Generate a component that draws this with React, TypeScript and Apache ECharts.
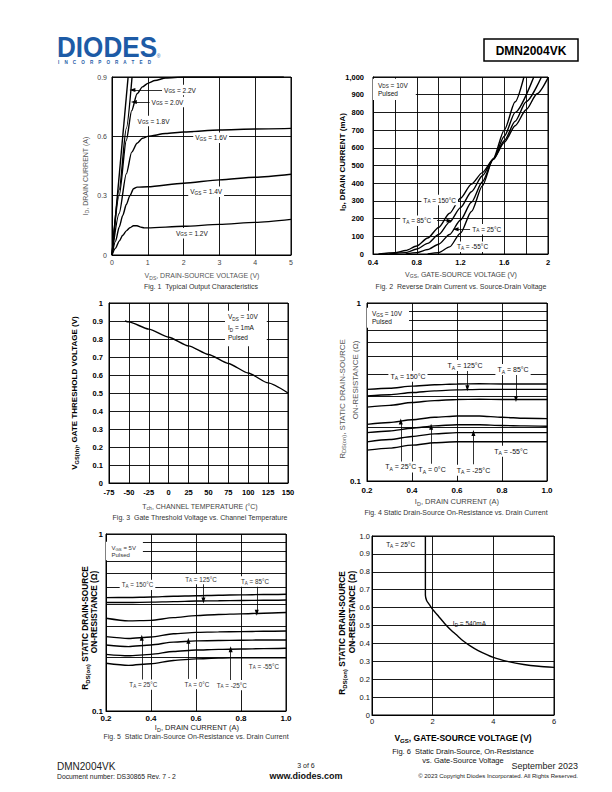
import React, { useEffect, useRef } from "react";
import * as echarts from "echarts";

const F = '"Liberation Sans", Arial, Helvetica, sans-serif';

// ---------- Fig. 1  Typical Output Characteristics  [VDS (V), ID (A)]
const f1Vgs22 = [[0, 0], [0.45, 0.9]];
const f1Vgs20 = [[0, 0], [0.2, 0.33], [0.4, 0.64], [0.56, 0.9]];
const f1Vgs18 = [[0, 0], [0.2, 0.3], [0.4, 0.58], [0.55, 0.73], [0.7, 0.815], [0.85, 0.85], [1, 0.868], [1.2, 0.882], [1.5, 0.895], [2, 0.9], [4.8, 0.9]];
const f1Vgs16 = [[0, 0], [0.2, 0.21], [0.4, 0.41], [0.55, 0.52], [0.7, 0.565], [0.85, 0.59], [1, 0.6], [1.5, 0.614], [2, 0.622], [3, 0.632], [4, 0.637], [5, 0.64]];
const f1Vgs14 = [[0, 0], [0.1, 0.07], [0.2, 0.14], [0.3, 0.2], [0.4, 0.255], [0.5, 0.3], [0.6, 0.335], [0.7, 0.343], [1, 0.345], [2, 0.363], [3, 0.38], [4, 0.393], [5, 0.408]];
const f1Vgs12 = [[0, 0], [0.1, 0.035], [0.2, 0.07], [0.3, 0.1], [0.4, 0.122], [0.5, 0.138], [0.6, 0.148], [0.7, 0.148], [0.8, 0.141], [0.9, 0.137], [1, 0.137], [2, 0.145], [3, 0.155], [4, 0.165], [5, 0.18]];
const f1Names = ["V{s|GS} = 2.2V", "V{s|GS} = 2.0V", "V{s|GS} = 1.8V", "V{s|GS} = 1.6V", "V{s|GS} = 1.4V", "V{s|GS} = 1.2V"];

// ---------- Fig. 2  Reverse drain current  [VGS (V), ID (mA)]
const f2T150 = [[0.45, 0], [0.6, 7], [0.7, 20], [0.8, 45], [0.9, 90], [1.0, 150], [1.1, 230], [1.2, 315], [1.3, 395], [1.4, 460], [1.5, 535], [1.6, 630], [1.7, 725], [1.8, 815], [1.9, 905], [2.0, 995]];
const f2T85 = [[0.55, 0], [0.7, 8], [0.8, 28], [0.9, 60], [1.0, 110], [1.1, 180], [1.2, 262], [1.3, 352], [1.4, 442], [1.5, 535], [1.6, 640], [1.7, 750], [1.8, 860], [1.94, 1000]];
const f2T25 = [[0.7, 0], [0.8, 8], [0.9, 25], [1.0, 55], [1.1, 110], [1.2, 192], [1.3, 292], [1.4, 408], [1.5, 535], [1.6, 665], [1.7, 800], [1.87, 1000]];
const f2Tm55 = [[0.9, 0], [1.0, 8], [1.1, 40], [1.2, 118], [1.3, 240], [1.4, 385], [1.5, 540], [1.6, 700], [1.7, 860], [1.78, 1000]];

// ---------- Fig. 3  Gate threshold voltage  [Tch (°C), VGS(th) (V)]
const f3Tch = [-55, -50, -25, 0, 25, 50, 75, 100, 125, 150];
const f3Vth = [0.9, 0.895, 0.855, 0.81, 0.762, 0.714, 0.664, 0.611, 0.556, 0.5];

// ---------- Fig. 4  RDS(on) vs ID, VGS = 10V
const f4Id = [0.2, 0.3, 0.4, 0.5, 0.6, 0.7, 0.8, 0.9, 1.0];
const f4T150 = [0.327, 0.332, 0.341, 0.347, 0.351, 0.352, 0.351, 0.351, 0.351];
const f4T125 = [0.3, 0.305, 0.314, 0.321, 0.325, 0.327, 0.327, 0.327, 0.327];
const f4T85 = [0.26, 0.266, 0.276, 0.283, 0.287, 0.288, 0.287, 0.287, 0.287];
const f4T25 = [0.208, 0.213, 0.221, 0.228, 0.232, 0.232, 0.228, 0.225, 0.224];
const f4T0 = [0.187, 0.191, 0.198, 0.204, 0.207, 0.207, 0.205, 0.204, 0.203];
const f4Tm25 = [0.166, 0.171, 0.178, 0.184, 0.187, 0.187, 0.187, 0.187, 0.187];
const f4Tm55 = [0.149, 0.153, 0.159, 0.164, 0.166, 0.166, 0.166, 0.166, 0.166];

// ---------- Fig. 5  RDS(on) vs ID, VGS = 5V
const f5Id = [0.2, 0.3, 0.4, 0.5, 0.6, 0.7, 0.8, 0.9, 1.0];
const f5T150 = [0.437, 0.438, 0.441, 0.445, 0.448, 0.451, 0.453, 0.455, 0.457];
const f5T125 = [0.41, 0.41, 0.412, 0.415, 0.418, 0.42, 0.421, 0.422, 0.424];
const f5T85 = [0.334, 0.323, 0.325, 0.337, 0.346, 0.351, 0.354, 0.357, 0.36];
const f5T25 = [0.263, 0.257, 0.262, 0.273, 0.278, 0.28, 0.281, 0.282, 0.283];
const f5T0 = [0.236, 0.231, 0.236, 0.245, 0.249, 0.25, 0.251, 0.252, 0.252];
const f5Tm25 = [0.209, 0.205, 0.209, 0.217, 0.221, 0.223, 0.224, 0.225, 0.226];
const f5Tm55 = [0.186, 0.181, 0.185, 0.193, 0.197, 0.199, 0.2, 0.2, 0.2];

// ---------- Fig. 6  RDS(on) vs VGS, ID = 540mA
const f6Vgs = [1.76, 1.76, 1.8, 1.9, 2.0, 2.2, 2.4, 2.6, 2.8, 3.0, 3.25, 3.5, 4.0, 4.5, 5.0, 5.5, 6.0];
const f6Rds = [1.0, 0.67, 0.64, 0.615, 0.59, 0.55, 0.51, 0.475, 0.445, 0.415, 0.385, 0.36, 0.322, 0.298, 0.282, 0.272, 0.266];

// log-axis minor grid values
const logMinor = [0.2, 0.3, 0.4, 0.5, 0.6, 0.7, 0.8, 0.9];

const pairs = (xs: number[], ys: number[]) => xs.map((x, i) => [x, ys[i]]);

function richSub(fs: number, w: string, fill: string) {
  return {
    s: { fontSize: fs * 0.72, fontFamily: F, fontWeight: w, fill, color: fill, verticalAlign: "bottom" },
  };
}

function gtext(x: number, y: number, text: string, fs: number, o: any = {}) {
  const w = o.w || "normal";
  const fill = o.fill || "#000";
  const align = o.align || "center";
  return {
    type: "text",
    x,
    y,
    rotation: o.rot || 0,
    scaleX: o.sx || 1,
    silent: true,
    z: 10,
    style: {
      text,
      x: 0,
      y: 0,
      fill,
      fontSize: fs,
      fontFamily: F,
      fontWeight: w,
      align,
      textAlign: align,
      verticalAlign: "middle",
      textVerticalAlign: "middle",
      lineHeight: o.lh || Math.round(fs * 1.3),
      rich: richSub(fs, w, fill),
    },
  };
}

function mlabel(coord: number[], text: string, fs: number, o: any = {}) {
  const w = o.w || "normal";
  const fill = o.fill || "#111";
  return {
    coord,
    symbol: "circle",
    symbolSize: 1,
    itemStyle: { color: "rgba(0,0,0,0)" },
    label: {
      show: true,
      position: "inside",
      formatter: text,
      fontSize: fs,
      fontFamily: F,
      fontWeight: w,
      color: fill,
      backgroundColor: o.bg === false ? "transparent" : "#fff",
      padding: o.pad || [1, 2],
      align: o.align || "center",
      verticalAlign: o.va || "middle",
      lineHeight: o.lh || fs + 2,
      rich: richSub(fs, w, fill),
    },
  };
}

const arrow = (a: number[], b: number[], head = true) => [
  { coord: a, symbol: "none" },
  { coord: b, symbol: head ? "triangle" : "none", symbolSize: [4, 6] },
];

const mp = (items: any[]) => ({ silent: true, animation: false, data: items });
const ml = (items: any[], z = 4, width = 0.8) => ({
  silent: true,
  animation: false,
  symbol: ["none", "none"],
  label: { show: false },
  emphasis: { disabled: true },
  lineStyle: { color: "#000", width, type: "solid" },
  z,
  data: items,
});

function curve(data: any[], idx: number, extra: any = {}) {
  return {
    type: "line",
    xAxisIndex: idx,
    yAxisIndex: idx,
    data,
    symbol: "none",
    showSymbol: false,
    silent: true,
    smooth: 0.25,
    smoothMonotone: "x",
    lineStyle: { color: "#000", width: 1.4 },
    z: 3,
    animation: false,
    ...extra,
  };
}

function ax(o: any) {
  const { axisLabel, ...rest } = o;
  return {
    type: "value",
    axisLine: { show: true, onZero: false, lineStyle: { color: "#000", width: 1 } },
    axisTick: { show: false },
    splitLine: { show: true, lineStyle: { color: "#000", width: 0.9 } },
    ...rest,
    axisLabel: { fontFamily: F, color: "#000", ...axisLabel },
  };
}

const d1 = (v: number) => String(Math.round(v * 10) / 10);

function buildOption() {
  const gridBox = [
    { left: 112, top: 77, width: 179, height: 178 },
    { left: 373, top: 77, width: 175, height: 177 },
    { left: 109, top: 303, width: 179, height: 180 },
    { left: 367, top: 303, width: 180, height: 178 },
    { left: 106, top: 534, width: 180, height: 177 },
    { left: 372, top: 536, width: 182, height: 179 },
  ];
  const grid = gridBox.map((g) => ({ ...g, show: true, borderColor: "#000", borderWidth: 1, backgroundColor: "transparent", containLabel: false }));

  const L1 = { fontSize: 7, color: "#444", margin: 4 };
  const L2 = { fontSize: 7.5, fontWeight: "bold" };
  const L4 = { fontSize: 8, fontWeight: "bold" };

  const xAxis = [
    ax({ gridIndex: 0, min: 0, max: 5, interval: 1, axisLabel: { ...L1, formatter: d1 } }),
    ax({ gridIndex: 1, min: 0.4, max: 2, interval: 0.2, axisLabel: { ...L2, margin: 4, formatter: (v: number) => (Math.round(v * 10) % 4 === 0 ? d1(v) : "") } }),
    ax({ gridIndex: 2, min: -75, max: 150, interval: 25, axisLabel: { ...L2, margin: 5 } }),
    ax({ gridIndex: 3, min: 0.2, max: 1, interval: 0.2, axisLabel: { ...L4, margin: 5, formatter: (v: number) => v.toFixed(1) } }),
    ax({ gridIndex: 4, min: 0.2, max: 1, interval: 0.2, axisLabel: { ...L4, margin: 3, formatter: (v: number) => v.toFixed(1) } }),
    ax({ gridIndex: 5, min: 0, max: 6, interval: 2, axisLabel: { fontSize: 7.5, color: "#111", margin: 2 } }),
  ];
  const yAxis = [
    ax({ gridIndex: 0, min: 0, max: 0.9, interval: 0.3, axisLabel: { ...L1, margin: 5, formatter: d1 } }),
    ax({ gridIndex: 1, min: 0, max: 1000, interval: 100, axisLabel: { ...L2, margin: 9, formatter: (v: number) => v.toLocaleString("en-US") } }),
    ax({ gridIndex: 2, min: 0, max: 1, interval: 0.1, axisLabel: { ...L2, margin: 6, formatter: d1 } }),
    ax({ gridIndex: 3, type: "log", logBase: 10, min: 0.1, max: 1, axisLabel: { ...L4, margin: 6, formatter: (v: number) => (v > 0.5 ? "1" : "0.1") } }),
    ax({ gridIndex: 4, type: "log", logBase: 10, min: 0.1, max: 1, axisLabel: { ...L4, margin: 3, formatter: (v: number) => (v > 0.5 ? "1" : "0.1") } }),
    ax({ gridIndex: 5, min: 0, max: 1, interval: 0.1, axisLabel: { fontSize: 7.5, color: "#111", margin: 2, formatter: (v: number) => (v === 0 ? "0" : v.toFixed(1)) } }),
  ];

  const f1fs = 6.5;
  const f2fs = 6.5;
  const series: any[] = [
    // Fig 1
    curve(f1Vgs22, 0, {
      markPoint: mp([
        mlabel([1.9, 0.834], f1Names[0], f1fs),
        mlabel([1.55, 0.773], f1Names[1], f1fs),
        mlabel([1.16, 0.677], f1Names[2], f1fs),
        mlabel([2.77, 0.593], f1Names[3], f1fs),
        mlabel([2.63, 0.32], f1Names[4], f1fs),
        mlabel([2.23, 0.11], f1Names[5], f1fs),
      ]),
      markLine: ml([arrow([1.41, 0.834], [0.57, 0.834]), arrow([1.07, 0.773], [0.61, 0.773])]),
    }),
    curve(f1Vgs20, 0),
    curve(f1Vgs18, 0),
    curve(f1Vgs16, 0),
    curve(f1Vgs14, 0),
    curve(f1Vgs12, 0),
    // Fig 2
    curve(f2T150, 1, {
      markPoint: mp([
        mlabel([0.4, 990], "V{s|DS} = 10V\nPulsed", 6.5, { align: "left", va: "top", pad: [3, 8, 3, 5], lh: 7.6 }),
        mlabel([1.01, 305], "T{s|A} = 150°C", f2fs),
        mlabel([0.8, 188], "T{s|A} = 85°C", f2fs),
        mlabel([1.44, 140], "T{s|A} = 25°C", f2fs),
        mlabel([1.31, 41], "T{s|A} = -55°C", f2fs),
      ]),
      markLine: ml([arrow([1.13, 305], [1.19, 305], false), arrow([0.985, 188], [1.1, 188]), arrow([1.29, 140], [1.155, 140])]),
    }),
    curve(f2T85, 1),
    curve(f2T25, 1),
    curve(f2Tm55, 1),
    // Fig 3
    curve(pairs(f3Tch, f3Vth), 2, {
      smooth: 0.2,
      markPoint: mp([
        mlabel([70.8, 0.957], "V{s|DS} = 10V\nI{s|D} = 1mA\nPulsed", 6.5, { align: "left", va: "top", pad: [1, 9, 3, 3], lh: 10.5 }),
      ]),
    }),
    // Fig 4
    curve(pairs(f4Id, f4T150), 3, { markLine: ml(logMinor.map((v) => ({ yAxis: v })), 1, 0.9) }),
    curve(pairs(f4Id, f4T125), 3, {
      markPoint: mp([
        mlabel([0.2, 0.941], "V{s|GS} = 10V\nPulsed", 6.5, { align: "left", va: "top", pad: [2, 7, 2, 5], lh: 8 }),
        mlabel([0.382, 0.388], "T{s|A} = 150°C", 7),
        mlabel([0.636, 0.445], "T{s|A} = 125°C", 7),
        mlabel([0.849, 0.423], "T{s|A} = 85°C", 7),
        mlabel([0.35, 0.12], "T{s|A} = 25°C", 7),
        mlabel([0.489, 0.116], "T{s|A} = 0°C", 7),
        mlabel([0.673, 0.115], "T{s|A} = -25°C", 7),
        mlabel([0.84, 0.147], "T{s|A} = -55°C", 7),
      ]),
      markLine: ml([
        arrow([0.646, 0.423], [0.646, 0.332]),
        arrow([0.862, 0.402], [0.862, 0.289]),
        arrow([0.35, 0.127], [0.35, 0.216]),
        arrow([0.485, 0.125], [0.485, 0.202]),
        arrow([0.673, 0.124], [0.673, 0.186]),
      ]),
    }),
    curve(pairs(f4Id, f4T85), 3),
    curve(pairs(f4Id, f4T25), 3),
    curve(pairs(f4Id, f4T0), 3),
    curve(pairs(f4Id, f4Tm25), 3),
    curve(pairs(f4Id, f4Tm55), 3),
    // Fig 5
    curve(pairs(f5Id, f5T150), 4, { markLine: ml(logMinor.map((v) => ({ yAxis: v })), 1, 0.9) }),
    curve(pairs(f5Id, f5T125), 4, {
      markPoint: mp([
        mlabel([0.2, 0.904], "V{s|GS} = 5V\nPulsed", 6, { align: "left", va: "top", pad: [2.5, 7, 2, 5.5], lh: 7, fill: "#333" }),
        mlabel([0.34, 0.516], "T{s|A} = 150°C", 6.3, { fill: "#333" }),
        mlabel([0.622, 0.556], "T{s|A} = 125°C", 6.3, { fill: "#333" }),
        mlabel([0.862, 0.539], "T{s|A} = 85°C", 6.3, { fill: "#333" }),
        mlabel([0.366, 0.141], "T{s|A} = 25°C", 6.3, { fill: "#333" }),
        mlabel([0.604, 0.142], "T{s|A} = 0°C", 6.3, { fill: "#333" }),
        mlabel([0.759, 0.14], "T{s|A} = -25°C", 6.3, { fill: "#333" }),
        mlabel([0.902, 0.179], "T{s|A} = -55°C", 6.3, { fill: "#333" }),
      ]),
      markLine: ml([
        arrow([0.633, 0.527], [0.633, 0.421]),
        arrow([0.87, 0.51], [0.87, 0.359]),
        arrow([0.359, 0.149], [0.359, 0.259]),
        arrow([0.566, 0.149], [0.566, 0.249]),
        arrow([0.754, 0.149], [0.754, 0.223]),
      ]),
    }),
    curve(pairs(f5Id, f5T85), 4),
    curve(pairs(f5Id, f5T25), 4),
    curve(pairs(f5Id, f5T0), 4),
    curve(pairs(f5Id, f5Tm25), 4),
    curve(pairs(f5Id, f5Tm55), 4),
    // Fig 6
    curve(pairs(f6Vgs, f6Rds), 5, {
      smooth: 0.2,
      smoothMonotone: undefined,
      markPoint: mp([
        mlabel([0.4, 0.95], "T{s|A} = 25°C", 6.5, { align: "left" }),
        mlabel([2.6, 0.512], "I{s|D} = 540mA", 6.5, { align: "left", bg: false }),
      ]),
    }),
  ];

  const R = Math.PI / 2;
  const graphic: any[] = [
    // header
    gtext(57, 47, "DIODES", 29, { w: "bold", fill: "#1d5ba6", align: "left", sx: 0.9 }),
    gtext(58, 62.5, "I    N    C    O    R    P    O    R    A    T    E    D", 4.6, { w: "bold", fill: "#1d5ba6", align: "left" }),
    gtext(158.5, 56, "®", 5, { fill: "#1d5ba6" }),
    { type: "rect", shape: { x: 484, y: 39, width: 94, height: 22 }, style: { fill: "none", stroke: "#000", lineWidth: 1.5 }, silent: true },
    gtext(531, 50.5, "DMN2004VK", 12, { w: "bold" }),
    // Fig 1
    gtext(85, 176, "I{s|D}, DRAIN CURRENT (A)", 7, { rot: R, fill: "#555" }),
    gtext(202, 275.5, "V{s|DS}, DRAIN-SOURCE VOLTAGE (V)", 7, { fill: "#555" }),
    gtext(201, 286, "Fig. 1  Typical Output Characteristics", 7, { fill: "#333" }),
    // Fig 2
    gtext(342, 162, "I{s|D}, DRAIN CURRENT (mA)", 8, { rot: R, w: "bold" }),
    gtext(461, 274, "V{s|GS}, GATE-SOURCE VOLTAGE (V)", 7, { fill: "#444" }),
    gtext(461, 286, "Fig. 2  Reverse Drain Current vs. Source-Drain Voltage", 7, { fill: "#333" }),
    // Fig 3
    gtext(74.5, 393, "V{s|GS(th)}, GATE THRESHOLD VOLTAGE (V)", 8, { rot: R, w: "bold" }),
    gtext(200, 506, "T{s|ch}, CHANNEL TEMPERATURE (°C)", 7, { fill: "#444" }),
    gtext(200, 517.5, "Fig. 3  Gate Threshold Voltage vs. Channel Temperature", 7, { fill: "#333" }),
    // Fig 4
    gtext(342, 399, "R{s|DS(on)}, STATIC DRAIN-SOURCE", 8, { rot: R, fill: "#555" }),
    gtext(355.5, 380, "ON-RESISTANCE (Ω)", 8, { rot: R, fill: "#555" }),
    gtext(457, 501, "I{s|D}, DRAIN CURRENT (A)", 7.5, { fill: "#444" }),
    gtext(456, 512, "Fig. 4 Static Drain-Source On-Resistance vs. Drain Current", 7, { fill: "#333" }),
    // Fig 5
    gtext(85, 628, "R{s|DS(on)} STATIC DRAIN-SOURCE", 8.3, { rot: R, w: "bold" }),
    gtext(93.5, 612, "ON-RESISTANCE (Ω)", 8.3, { rot: R, w: "bold" }),
    gtext(197, 727, "I{s|D}, DRAIN CURRENT (A)", 7.5, { fill: "#222" }),
    gtext(196, 736.5, "Fig. 5  Static Drain-Source On-Resistance vs. Drain Current", 7, { fill: "#333" }),
    // Fig 6
    gtext(342, 633, "R{s|DS(on)} STATIC DRAIN-SOURCE", 8.3, { rot: R, w: "bold" }),
    gtext(352, 612, "ON-RESISTANCE (Ω)", 8.3, { rot: R, w: "bold" }),
    gtext(463, 738, "V{s|GS}, GATE-SOURCE VOLTAGE (V)", 8.5, { w: "bold" }),
    gtext(463, 751.5, "Fig. 6  Static Drain-Source, On-Resistance", 7.5, { fill: "#111" }),
    gtext(463, 760, "vs. Gate-Source Voltage", 7.5, { fill: "#111" }),
    // footer
    gtext(57, 766, "DMN2004VK", 10, { align: "left", fill: "#222" }),
    gtext(57, 776, "Document number: DS30865 Rev. 7 - 2", 6.8, { align: "left", fill: "#222" }),
    gtext(306, 765.5, "3 of 6", 7, { fill: "#222" }),
    gtext(306, 775.5, "www.diodes.com", 9, { w: "bold", fill: "#111" }),
    gtext(578, 766, "September 2023", 9, { align: "right", fill: "#222" }),
    gtext(578, 776, "© 2023 Copyright Diodes Incorporated. All Rights Reserved.", 6, { align: "right", fill: "#222" }),
  ];

  return {
    animation: false,
    backgroundColor: "#fff",
    textStyle: { fontFamily: F },
    grid,
    xAxis,
    yAxis,
    series,
    graphic,
  };
}

export default function App() {
  const ref = useRef<HTMLDivElement>(null);
  useEffect(() => {
    if (!ref.current) return;
    const chart = echarts.init(ref.current, null, { renderer: "svg", width: 612, height: 792 });
    chart.setOption(buildOption() as any);
    return () => chart.dispose();
  }, []);
  return (
    <div
      ref={ref}
      style={{ position: "absolute", left: 0, top: 0, width: 612, height: 792, background: "#fff" }}
    />
  );
}
